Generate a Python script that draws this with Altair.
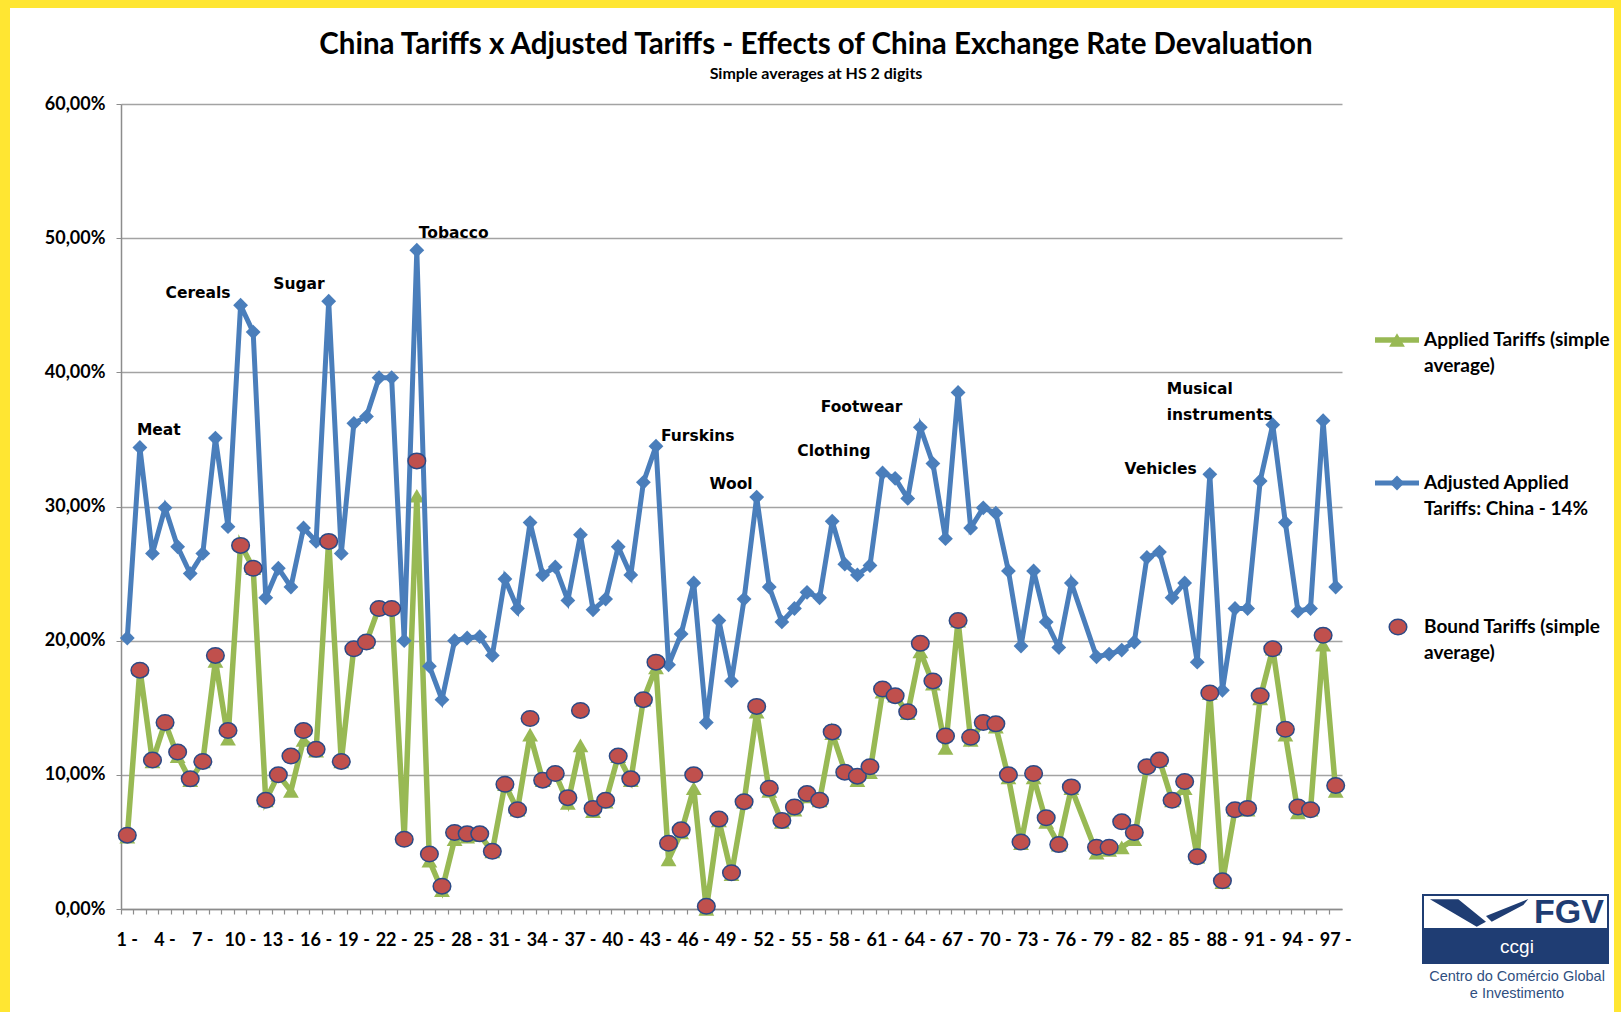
import altair as alt
import pandas as pd

# HS 2-digit chapters (chapter 77 is reserved in the HS and has no data)
hs_chapters = list(range(1, 98))

# Applied tariffs, simple average (%)
applied_pct = [
    5.4, 17.9, 11.0, 13.9, 11.4, 9.6, 11.0, 18.5, 12.7, 27.2,
    25.4, 8.1, 10.0, 8.8, 12.6, 11.8, 27.5, 11.0, 19.5, 19.9,
    22.5, 22.5, 5.3, 30.8, 3.6, 1.4, 5.2, 5.4, 5.5, 4.3,
    9.3, 7.4, 13.0, 9.6, 10.1, 7.9, 12.2, 7.3, 8.0, 11.4,
    9.6, 15.6, 18.0, 3.7, 5.7, 9.0, 0.0, 6.6, 2.6, 8.0,
    14.7, 8.8, 6.5, 7.4, 8.4, 8.1, 13.1, 10.3, 9.6, 10.2,
    16.2, 15.9, 14.6, 19.2, 16.8, 12.0, 21.5, 12.6, 13.9, 13.6,
    9.8, 4.9, 9.8, 6.5, 4.8, 9.0, None, 4.2, 4.4, 4.6,
    5.2, 10.7, 11.1, 8.1, 9.0, 3.9, 16.1, 2.0, 7.4, 7.4,
    15.7, 19.4, 13.0, 7.2, 7.4, 19.7, 8.8,
]

# Adjusted applied tariffs: China - 14% (%)
adjusted_pct = [
    20.2, 34.4, 26.5, 29.9, 27.0, 25.0, 26.5, 35.1, 28.5, 45.0,
    43.0, 23.2, 25.4, 24.0, 28.4, 27.4, 45.3, 26.5, 36.2, 36.7,
    39.6, 39.6, 20.0, 49.1, 18.1, 15.6, 20.0, 20.2, 20.3, 18.9,
    24.6, 22.4, 28.8, 24.9, 25.5, 23.0, 27.9, 22.3, 23.1, 27.0,
    24.9, 31.8, 34.5, 18.2, 20.5, 24.3, 13.9, 21.5, 17.0, 23.1,
    30.7, 24.0, 21.4, 22.4, 23.6, 23.2, 28.9, 25.7, 24.9, 25.6,
    32.5, 32.1, 30.6, 35.9, 33.2, 27.6, 38.5, 28.4, 29.9, 29.5,
    25.2, 19.6, 25.2, 21.4, 19.5, 24.3, None, 18.8, 19.0, 19.3,
    19.9, 26.2, 26.6, 23.2, 24.3, 18.4, 32.4, 16.3, 22.4, 22.4,
    31.9, 36.1, 28.8, 22.2, 22.4, 36.4, 24.0,
]

# Bound tariffs, simple average (%)
bound_pct = [
    5.5, 17.8, 11.1, 13.9, 11.7, 9.7, 11.0, 18.9, 13.3, 27.1,
    25.4, 8.1, 10.0, 11.4, 13.3, 11.9, 27.4, 11.0, 19.4, 19.9,
    22.4, 22.4, 5.2, 33.4, 4.1, 1.7, 5.7, 5.6, 5.6, 4.3,
    9.3, 7.4, 14.2, 9.6, 10.1, 8.3, 14.8, 7.5, 8.1, 11.4,
    9.7, 15.6, 18.4, 4.9, 5.9, 10.0, 0.2, 6.7, 2.7, 8.0,
    15.1, 9.0, 6.6, 7.6, 8.6, 8.1, 13.2, 10.2, 9.9, 10.6,
    16.4, 15.9, 14.7, 19.8, 17.0, 12.9, 21.5, 12.8, 13.9, 13.8,
    10.0, 5.0, 10.1, 6.8, 4.8, 9.1, None, 4.6, 4.6, 6.5,
    5.7, 10.6, 11.1, 8.1, 9.5, 3.9, 16.1, 2.1, 7.4, 7.5,
    15.9, 19.4, 13.4, 7.6, 7.4, 20.4, 9.2,
]

y_ticks = [0.0, 0.1, 0.2, 0.3, 0.4, 0.5, 0.6]

rows = [
    {"hs": h, "applied": a / 100, "adjusted": j / 100, "bound": b / 100}
    for h, a, j, b in zip(hs_chapters, applied_pct, adjusted_pct, bound_pct)
    if a is not None
]
df = pd.DataFrame(rows)

W, H = 1221, 805
BLUE = "#4A7EBB"
GREEN = "#98B954"
RED = "#C0504D"
MARKER_EDGE = "#2C4A86"
AXIS_GRAY = "#8C8C8C"
GRID_GRAY = "#A3A3A3"
YELLOW = "#FFE632"
LOGO_BLUE = "#1F3D73"
LABEL_FONT = "Lato"
NOTE_FONT = "DejaVu Sans"
TITLE_FONT = "Lato"
ELLIPSE = "M-1,0A1,0.88,0,1,0,1,0A1,0.88,0,1,0,-1,0Z"

x_scale = alt.Scale(type="band", domain=hs_chapters, paddingInner=0, paddingOuter=0)
y_scale = alt.Scale(domain=[0, 0.6])

x_label_axis = alt.Axis(
    title=None, orient="bottom", labelAngle=0, ticks=False, grid=False, labelOverlap=False,
    labelExpr="datum.value % 3 == 1 ? datum.value + ' -' : ''",
    domain=True, domainColor=AXIS_GRAY, domainWidth=1.5,
    labelFont=LABEL_FONT, labelFontWeight="bold", labelFontSize=18,
    labelColor="black", labelPadding=22,
)
x_tick_axis = alt.Axis(
    title=None, orient="bottom", labels=False, ticks=True, tickSize=5, tickColor=AXIS_GRAY,
    tickWidth=1.2, bandPosition=0, domain=False, grid=False,
)
y_axis = alt.Axis(
    title=None, values=y_ticks,
    labelExpr="replace(format(datum.value, '.2%'), '.', ',')",
    grid=True, gridColor=GRID_GRAY, gridWidth=1.5,
    domain=True, domainColor=AXIS_GRAY, domainWidth=1.5,
    ticks=True, tickColor=AXIS_GRAY, tickSize=5,
    labelFont=LABEL_FONT, labelFontWeight="bold", labelFontSize=18,
    labelColor="black", labelPadding=11,
)

base = alt.Chart(df)

applied_line = base.mark_line(
    color=GREEN, strokeWidth=5.5,
    point=alt.OverlayMarkDef(shape="triangle-up", size=250, color=GREEN, filled=True, opacity=1),
).encode(
    x=alt.X("hs:O", scale=x_scale, axis=x_label_axis),
    y=alt.Y("applied:Q", scale=y_scale, axis=y_axis),
)

adjusted_line = base.mark_line(
    color=BLUE, strokeWidth=5,
    point=alt.OverlayMarkDef(shape="diamond", size=220, color=BLUE, filled=True, opacity=1),
).encode(
    x=alt.X("hs:O", scale=x_scale, axis=None),
    y=alt.Y("adjusted:Q", scale=y_scale, axis=y_axis),
)

bound_points = base.mark_point(
    shape=ELLIPSE, size=310, filled=True, color=RED, opacity=1,
    stroke=MARKER_EDGE, strokeWidth=1.5,
).encode(
    x=alt.X("hs:O", scale=x_scale, axis=x_tick_axis),
    y=alt.Y("bound:Q", scale=y_scale, axis=y_axis),
)

# Product names written next to the peaks of the adjusted series
notes = [
    ("Meat", 2, "left", -3, -17),
    ("Cereals", 10, "right", -10, -12),
    ("Sugar", 17, "right", -4, -17),
    ("Tobacco", 24, "left", 2, -17),
    ("Furskins", 43, "left", 5, -10),
    ("Wool", 51, "right", -4, -13),
    ("Clothing", 61, "right", -12, -22),
    ("Footwear", 64, "right", -18, -20),
    ("Vehicles", 87, "right", -13, -5),
    (["Musical", "instruments"], 92, "left", -106, -36),
]
note_layers = []
for text, hs, align, dx, dy in notes:
    note_layers.append(
        base.transform_filter(alt.datum.hs == hs).mark_text(
            font=NOTE_FONT, fontWeight="bold", fontSize=15.5, color="black",
            align=align, baseline="middle", dx=dx, dy=dy, lineHeight=26,
        ).encode(
            x=alt.X("hs:O", scale=x_scale, axis=None),
            y=alt.Y("adjusted:Q", scale=y_scale, axis=y_axis),
            text=alt.value(text),
        )
    )

one = alt.Data(values=[{}])


def box(x1, x2, y1, y2, **kw):
    return alt.Chart(one).mark_rect(**kw).encode(
        x=alt.value(x1), x2=alt.value(x2), y=alt.value(y1), y2=alt.value(y2)
    )


def label(text, x, y, **kw):
    return alt.Chart(one).mark_text(baseline="middle", **kw).encode(
        x=alt.value(x), y=alt.value(y), text=alt.value(text)
    )


# Yellow slide frame
frame = [
    box(-121, 1500, -104, -96, color=YELLOW),
    box(-121, -111, -104, 908, color=YELLOW),
    box(1493, 1500, -104, 908, color=YELLOW),
]

# Chart heading
heading = [
    label("China Tariffs x Adjusted Tariffs - Effects of China Exchange Rate Devaluation",
          695, -59, font=TITLE_FONT, fontWeight="bold", fontSize=29.5, color="black",
          align="center"),
    label("Simple averages at HS 2 digits", 695, -30, font=TITLE_FONT, fontWeight="bold",
          fontSize=16, color="black", align="center"),
]

# Legend on the right
legend_font = dict(font=LABEL_FONT, fontWeight="bold", fontSize=19, color="black",
                   align="left", lineHeight=26)
legend = [
    alt.Chart(one).mark_rule(color=GREEN, strokeWidth=5.5).encode(
        x=alt.value(1254), x2=alt.value(1298), y=alt.value(236)),
    alt.Chart(one).mark_point(shape="triangle-up", size=250, color=GREEN, filled=True, opacity=1).encode(
        x=alt.value(1276), y=alt.value(236)),
    label(["Applied Tariffs (simple", "average)"], 1303, 236, **legend_font),
    alt.Chart(one).mark_rule(color=BLUE, strokeWidth=5).encode(
        x=alt.value(1254), x2=alt.value(1298), y=alt.value(379)),
    alt.Chart(one).mark_point(shape="diamond", size=220, color=BLUE, filled=True, opacity=1).encode(
        x=alt.value(1276), y=alt.value(379)),
    label(["Adjusted Applied", "Tariffs: China - 14%"], 1303, 379, **legend_font),
    alt.Chart(one).mark_point(shape=ELLIPSE, size=310, filled=True, color=RED, opacity=1,
                              stroke=MARKER_EDGE, strokeWidth=1.5).encode(
        x=alt.value(1277), y=alt.value(523)),
    label(["Bound Tariffs (simple", "average)"], 1303, 523, **legend_font),
]

# FGV / ccgi badge
CHEVRON = ("M-0.962,-0.244L-0.417,-0.244L0.115,0.187L-0.063,0.283Z"
           "M0.115,0.077L0.929,-0.25L0.833,-0.135L0.225,0.187Z")
logo = [
    box(1302, 1487, 791, 859, fill="white", stroke=LOGO_BLUE, strokeWidth=2),
    box(1302, 1487, 824, 859, color=LOGO_BLUE),
    alt.Chart(one).mark_point(shape=CHEVRON, size=10816, filled=True, color=LOGO_BLUE, opacity=1).encode(
        x=alt.value(1359), y=alt.value(808)),
    label("FGV", 1448, 809, font="Liberation Sans", fontWeight="bold", fontSize=34,
          color=LOGO_BLUE, align="center"),
    label("ccgi", 1396, 843, font="Liberation Sans", fontSize=19, color="white", align="center"),
    label("Centro do Comércio Global", 1396, 873, font="Liberation Sans", fontSize=14.5,
          color="#2F4F7F", align="center"),
    label("e Investimento", 1396, 890, font="Liberation Sans", fontSize=14.5,
          color="#2F4F7F", align="center"),
]

chart = alt.layer(
    *frame,
    *heading,
    applied_line,
    adjusted_line,
    bound_points,
    *note_layers,
    *legend,
    *logo,
).resolve_axis(
    x="independent"
).properties(
    width=W,
    height=H,
    padding={"left": 121, "top": 104, "right": 279, "bottom": 103},
    autosize=alt.AutoSizeParams(type="none"),
).configure(
    background="white",
).configure_view(
    stroke=None,
)

chart.save("out.html", embed_options={"renderer": "svg", "actions": False})
